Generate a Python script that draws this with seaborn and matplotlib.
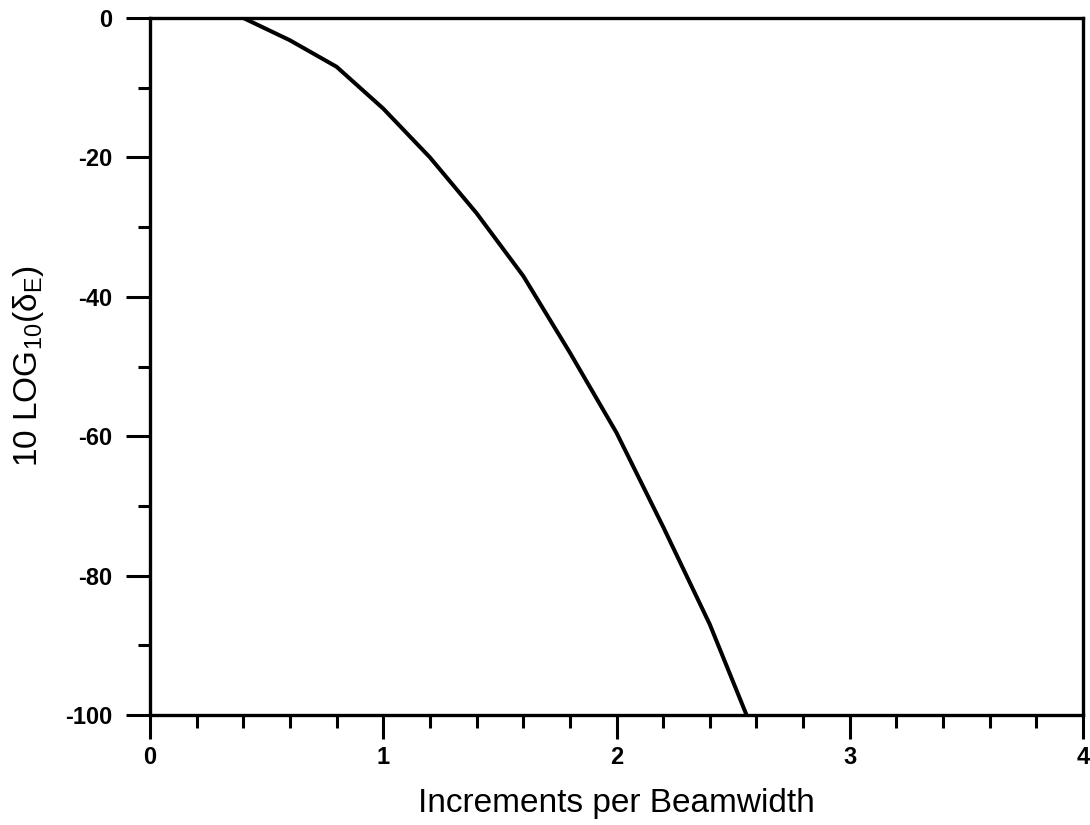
import matplotlib
matplotlib.use("Agg")
import matplotlib.pyplot as plt
from matplotlib.ticker import MultipleLocator
import pandas as pd
import seaborn as sns

# Error level versus sampling density
increments = [0.4, 0.6, 0.8, 1.0, 1.2, 1.4, 1.6, 1.8, 2.0, 2.2, 2.4, 2.6]
error_db = [0.0, -3.2, -7.0, -13.0, -20.0, -28.0, -37.0, -48.0, -59.5, -73.0, -87.0, -103.5]

x_major = [0, 1, 2, 3, 4]
y_major = [0, -20, -40, -60, -80, -100]

df = pd.DataFrame({"inc": increments, "err": error_db})

sns.set_theme(style="ticks")
plt.rcParams["font.family"] = ["Liberation Sans", "DejaVu Sans"]
plt.rcParams["mathtext.fontset"] = "custom"
plt.rcParams["mathtext.rm"] = "Liberation Sans"
plt.rcParams["axes.unicode_minus"] = False
plt.rcParams["text.color"] = "black"
plt.rcParams["axes.labelcolor"] = "black"
plt.rcParams["xtick.color"] = "black"
plt.rcParams["ytick.color"] = "black"

fig = plt.figure(figsize=(10.9, 8.25), dpi=100)
ax = fig.add_axes([0.1376, 0.1333, 0.8560, 0.8449])

sns.lineplot(data=df, x="inc", y="err", ax=ax, color="black", linewidth=2.9,
             sort=False, estimator=None)

ax.set_xlim(0, 4)
ax.set_ylim(-100, 0)
ax.set_xticks(x_major)
ax.set_yticks(y_major)
ax.xaxis.set_minor_locator(MultipleLocator(0.2))
ax.yaxis.set_minor_locator(MultipleLocator(10))

for s in ax.spines.values():
    s.set_linewidth(2.4)
    s.set_color("black")

ax.tick_params(axis="both", which="major", direction="out", length=17, width=2.2,
               labelsize=17)
ax.tick_params(axis="y", which="major", pad=10)
ax.tick_params(axis="x", which="major", pad=5)
ax.tick_params(axis="both", which="minor", direction="out", length=9, width=2.2)
for lbl in ax.get_xticklabels() + ax.get_yticklabels():
    lbl.set_fontweight("bold")

ax.set_xlabel("Increments per Beamwidth", fontsize=24, labelpad=14)
ax.set_ylabel(r"10 LOG$_{10}$(δ$_\mathregular{E}$)", fontsize=24, labelpad=14)

fig.savefig("out.png", dpi=100)
